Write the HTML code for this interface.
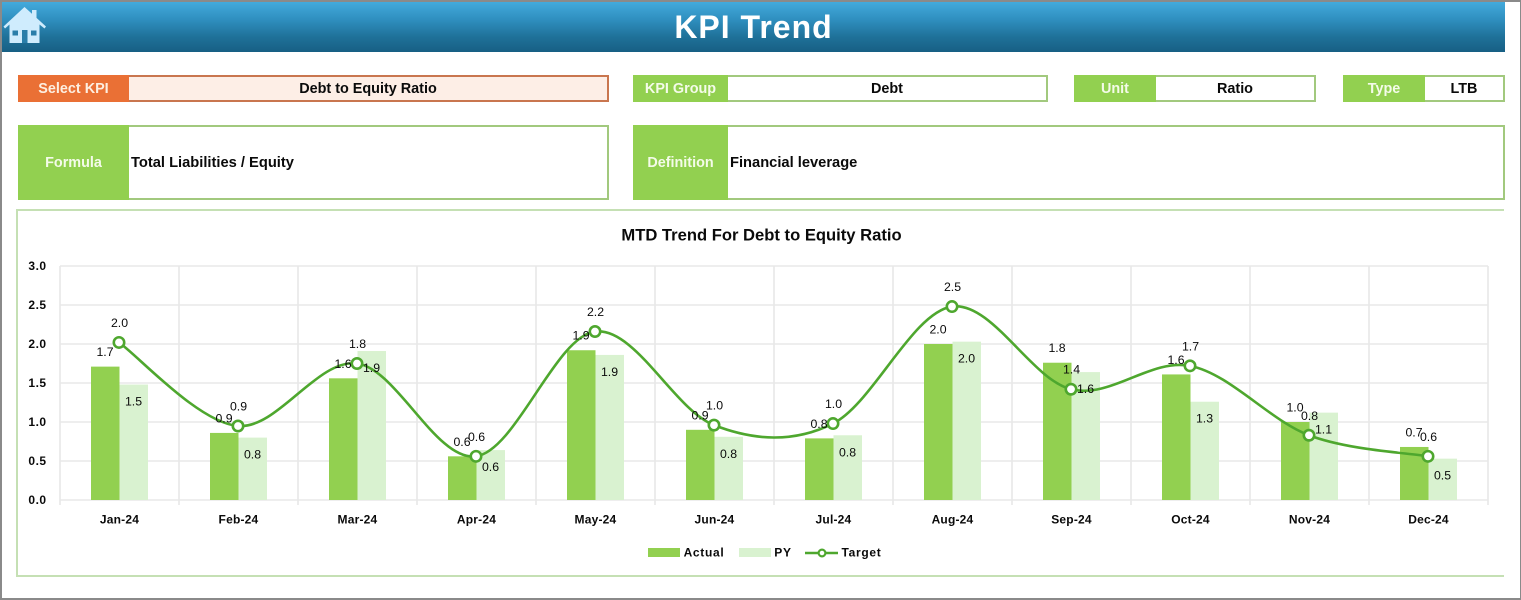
<!DOCTYPE html>
<html lang="en">
<head>
<meta charset="utf-8">
<title>KPI Trend</title>
<style>
html,body{margin:0;padding:0;background:#fff;}
#page{position:relative;width:1521px;height:600px;overflow:hidden;background:#fff;font-family:"Liberation Sans",sans-serif;color:#0a0a0a;}
.frame{position:absolute;background:#8a8a8a;}
#header{position:absolute;left:2px;top:2px;width:1503px;height:50px;background:linear-gradient(#43aadc 0%,#2f8fbf 35%,#1f7199 70%,#175f84 100%);}
#title{position:absolute;left:0;top:0;width:1503px;height:50px;line-height:50px;text-align:center;color:#fff;font-size:32px;font-weight:bold;letter-spacing:1px;}
.box{position:absolute;box-sizing:border-box;border:2px solid #a2c97e;background:#fff;}
.lab{position:absolute;left:-2px;top:-2px;bottom:-2px;background:#92d050;color:#f4fbe9;font-weight:bold;font-size:14.4px;display:flex;align-items:center;justify-content:center;}
.val{position:absolute;top:0;bottom:0;right:0;font-weight:bold;font-size:14.4px;display:flex;align-items:center;justify-content:center;}
.val.left{justify-content:flex-start;padding-left:2px;font-size:14.7px;}
#chart-box{position:absolute;left:16px;top:209px;width:1488px;height:368px;box-sizing:border-box;border:2px solid #c5e0b4;border-right:none;}
#chart{position:absolute;left:0;top:0;}
</style>
</head>
<body>
<div id="page">
  <div class="frame" style="left:0;top:0;width:1521px;height:2px"></div>
  <div class="frame" style="left:0;top:0;width:2px;height:600px"></div>
  <div class="frame" style="left:1520px;top:0;width:1px;height:600px"></div>
  <div class="frame" style="left:0;top:598px;width:1521px;height:2px"></div>

  <div id="header">
    <div id="title">KPI Trend</div>
  </div>
  <svg style="position:absolute;left:0;top:0" width="50" height="50">
    <rect x="32" y="10" width="4.5" height="10" fill="#cfecfd"/>
    <polygon points="24.5,7 46,26.5 44.5,28.5 39.5,24.5 39.5,43 9.5,43 9.5,24.5 5,28.5 3.5,26.5" fill="#cfecfd"/>
    <rect x="12.5" y="30.5" width="5.5" height="5" fill="#2a7ea9"/>
    <rect x="31" y="30.5" width="5.5" height="5" fill="#2a7ea9"/>
    <rect x="22" y="30" width="5.5" height="13" fill="#2a7ea9"/>
  </svg>

  <div class="box" style="left:18px;top:75px;width:591px;height:27px;border-color:#c9764f;background:#fdeee6">
    <div class="lab" style="width:111px;background:#ea7035;color:#fdeee0">Select KPI</div>
    <div class="val" style="left:109px">Debt to Equity Ratio</div>
  </div>
  <div class="box" style="left:633px;top:75px;width:415px;height:27px">
    <div class="lab" style="width:95px">KPI Group</div>
    <div class="val" style="left:93px">Debt</div>
  </div>
  <div class="box" style="left:1074px;top:75px;width:242px;height:27px">
    <div class="lab" style="width:82px">Unit</div>
    <div class="val" style="left:80px">Ratio</div>
  </div>
  <div class="box" style="left:1343px;top:75px;width:162px;height:27px">
    <div class="lab" style="width:82px">Type</div>
    <div class="val" style="left:80px">LTB</div>
  </div>
  <div class="box" style="left:18px;top:125px;width:591px;height:75px">
    <div class="lab" style="width:111px">Formula</div>
    <div class="val left" style="left:109px">Total Liabilities / Equity</div>
  </div>
  <div class="box" style="left:633px;top:125px;width:872px;height:75px">
    <div class="lab" style="width:95px">Definition</div>
    <div class="val left" style="left:93px">Financial leverage</div>
  </div>

  <div id="chart-box"></div>
  <svg id="chart" width="1521" height="600" font-family="'Liberation Sans',sans-serif"></svg>
</div>

<script>
const categories = ['Jan-24','Feb-24','Mar-24','Apr-24','May-24','Jun-24','Jul-24','Aug-24','Sep-24','Oct-24','Nov-24','Dec-24'];
const actualValues = [1.71,0.86,1.56,0.56,1.92,0.90,0.79,2.00,1.76,1.61,1.00,0.68];
const pyValues = [1.48,0.80,1.91,0.64,1.86,0.81,0.83,2.03,1.64,1.26,1.12,0.53];
const targetValues = [2.02,0.949,1.75,0.56,2.16,0.96,0.98,2.48,1.42,1.72,0.83,0.56];
const yTicks = [0,0.5,1,1.5,2,2.5,3];

const NS = 'http://www.w3.org/2000/svg';
const svg = document.getElementById('chart');
const plot = {left:60, right:1488, top:266, bottom:500};
const yMax = 3;
const band = (plot.right - plot.left) / categories.length;
const barW = 28.5;
const xBand = i => plot.left + band * i + band / 2 - 0.5;
const yVal = v => plot.bottom - (v / yMax) * (plot.bottom - plot.top);

function make(tag, attrs) {
  const el = document.createElementNS(NS, tag);
  for (const k in attrs) el.setAttribute(k, attrs[k]);
  svg.appendChild(el);
  return el;
}
function label(txt, x, y, size, weight, spacing) {
  const el = make('text', {x:x, y:y, 'text-anchor':'middle', 'dominant-baseline':'central', 'font-size':size, 'font-weight':weight, fill:'#0a0a0a', 'letter-spacing':spacing});
  el.textContent = txt;
  return el;
}

/* title */
const chartTitle = label('MTD Trend For Debt to Equity Ratio', 761.5, 235, 16.6, 'bold', 0);



/* horizontal grid + y labels */
yTicks.forEach(t => {
  const g = make('line', {x1:plot.left, x2:plot.right, y1:yVal(t), y2:yVal(t), stroke:'#e8e8e8', 'stroke-width':1.6});
  
  
  const l = label(t.toFixed(1), 37.5, yVal(t), 12, 'bold', 0.5);
  
  
});

/* vertical grid */
for (let i = 0; i <= categories.length; i++) {
  const x = plot.left + band * i;
  const g = make('line', {x1:x, x2:x, y1:plot.top, y2:plot.bottom + 5, stroke:'#e8e8e8', 'stroke-width':1.6});
  
  
}

/* bars */
categories.forEach((c, i) => {
  const cx = xBand(i);
  const a = make('rect', {x:cx - barW + 0.5, y:yVal(actualValues[i]), width:barW, height:plot.bottom - yVal(actualValues[i]), fill:'#92d050'});
  
  
  const p = make('rect', {x:cx + 0.5, y:yVal(pyValues[i]), width:barW, height:plot.bottom - yVal(pyValues[i]), fill:'#d9f2d0'});
  
  
  const xl = label(c, cx + 0.5, 519.5, 12, 'bold', 0.2);
  
  
});

/* smoothed target line */
const pts = targetValues.map((v, i) => [xBand(i), yVal(v)]);
let d = 'M' + pts[0][0] + ' ' + pts[0][1];
for (let i = 0; i < pts.length - 1; i++) {
  const p0 = pts[Math.max(i - 1, 0)], p1 = pts[i], p2 = pts[i + 1], p3 = pts[Math.min(i + 2, pts.length - 1)];
  const c1x = p1[0] + (p2[0] - p0[0]) / 6, c1y = p1[1] + (p2[1] - p0[1]) / 6;
  const c2x = p2[0] - (p3[0] - p1[0]) / 6, c2y = p2[1] - (p3[1] - p1[1]) / 6;
  d += ' C' + c1x + ' ' + c1y + ' ' + c2x + ' ' + c2y + ' ' + p2[0] + ' ' + p2[1];
}
const targetLine = make('path', {d:d, fill:'none', stroke:'#4ea72e', 'stroke-width':2.6});



pts.forEach(p => {
  const m = make('circle', {cx:p[0], cy:p[1], r:5.2, fill:'#fff', stroke:'#4ea72e', 'stroke-width':2.6});
  
  
});

/* data labels */
categories.forEach((c, i) => {
  const cx = xBand(i);
  const la = label(actualValues[i].toFixed(1), cx - 14, yVal(actualValues[i]) - 14.5, 12.3, 'normal', 0);
  
  
  const lp = label(pyValues[i].toFixed(1), cx + 14.5, yVal(pyValues[i]) + 17, 12.3, 'normal', 0);
  
  
  const lt = label(targetValues[i].toFixed(1), cx + 0.5, yVal(targetValues[i]) - 19.5, 12.3, 'normal', 0);
  
  
});

/* legend */
const legActual = make('rect', {x:648, y:548, width:32, height:9, fill:'#92d050'});


const legActualText = label('Actual', 704, 552.5, 12, 'bold', 0.7);


const legPy = make('rect', {x:739, y:548, width:32, height:9, fill:'#d9f2d0'});


const legPyText = label('PY', 783, 552.5, 12, 'bold', 0.7);


const legLine = make('line', {x1:805, x2:838, y1:553, y2:553, stroke:'#4ea72e', 'stroke-width':2.4});


const legDot = make('circle', {cx:822, cy:553, r:3.4, fill:'#fff', stroke:'#4ea72e', 'stroke-width':2.2});


const legTargetText = label('Target', 861.5, 552.5, 12, 'bold', 0.7);


</script>
</body>
</html>
